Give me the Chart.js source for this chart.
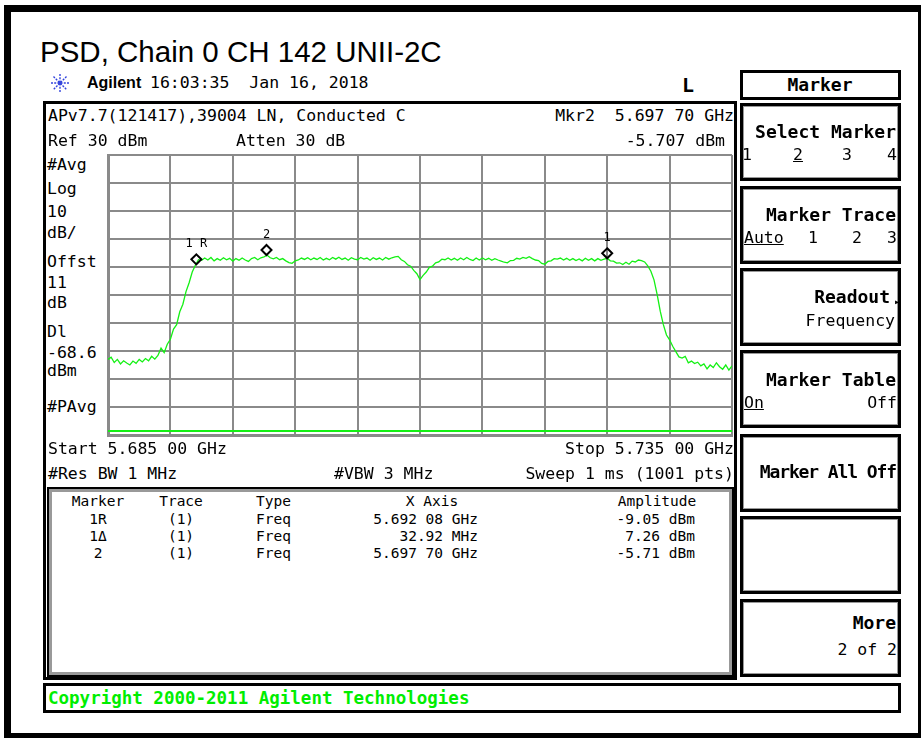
<!DOCTYPE html>
<html>
<head>
<meta charset="utf-8">
<script src="https://cdn.jsdelivr.net/npm/chart.js@4.4.1/dist/chart.umd.min.js"></script>
<style>
  body { margin:0; background:#fff; }
  #page { position:relative; width:923px; height:738px; overflow:hidden; background:#fff; }
  .abs { position:absolute; box-sizing:border-box; }
  .t { position:absolute; white-space:pre; font-family:'DejaVu Sans Mono', monospace; font-size:16.5px; line-height:20px; height:20px; color:#000; }
  .s { font-size:14.5px; }
  .b { font-weight:bold; font-size:18px; }
  .u { text-decoration:underline; }
  .key { position:absolute; left:740px; width:161px; height:78px; box-sizing:border-box; border:3px solid #000; box-shadow: inset 0 0 0 1px #999; }
</style>
</head>
<body>
<div id="page">
  <div class="abs" style="left:4px;top:5px;width:917px;height:733px;border-style:solid;border-color:#000;border-width:7px 3px 5px 7px;"></div>

  <div class="abs" style="left:40px;top:35px;font-family:'Liberation Sans',Arial,sans-serif;font-size:29.5px;line-height:34px;white-space:pre;">PSD, Chain 0 CH 142 UNII-2C</div>

  <svg class="abs" style="left:50px;top:73px" width="20" height="20" viewBox="0 0 20 20">
    <g stroke="#3344dd" stroke-width="1.4" stroke-dasharray="2 1.2">
      <line x1="10" y1="1" x2="10" y2="19"/><line x1="1" y1="10" x2="19" y2="10"/>
      <line x1="3.5" y1="3.5" x2="16.5" y2="16.5"/><line x1="16.5" y1="3.5" x2="3.5" y2="16.5"/>
    </g>
    <circle cx="10" cy="10" r="2" fill="#3344dd"/>
  </svg>
  <div class="abs" style="left:87px;top:73px;font-family:'Liberation Sans',Arial,sans-serif;font-weight:bold;font-size:16px;line-height:20px;">Agilent</div>

  <!-- main screen box and table box -->
  <div class="abs" style="left:43px;top:101px;width:694px;height:579px;border:3px solid #000;"></div>
  <div class="abs" style="left:47px;top:487px;width:687px;height:190px;border:2px solid #000;box-shadow: inset 0 0 0 3px #999;"></div>
  <div class="abs" style="left:43px;top:683px;width:858px;height:30px;border:3px solid #000;"></div>

  <!-- softkey panel -->
  <div class="abs" style="left:740px;top:70px;width:161px;height:30px;border:3px solid #000;"></div>
  <div class="key" style="top:103px"></div>
  <div class="key" style="top:186px"></div>
  <div class="key" style="top:268px"></div>
  <div class="key" style="top:350px"></div>
  <div class="key" style="top:434px"></div>
  <div class="key" style="top:516px"></div>
  <div class="key" style="top:599px"></div>

  <canvas id="psd" class="abs" width="644" height="300" style="left:98px;top:145px;"></canvas>
</div>

<script>
// sweep settings
const FREQ_START_MHZ = 5685;
const FREQ_STOP_MHZ = 5735;
const REF_LEVEL_DBM = 30;
const BOTTOM_DBM = -70;
const DISPLAY_LINE_DBM = -68.6;

// trace 1 at 0.25 MHz steps (dBm)
const traceDbm = [
  -43.0, -42.2, -44.1, -43.0, -44.6, -43.5, -44.3, -45.0, -43.6, -44.4,
  -43.0, -43.9, -42.7, -43.5, -41.9, -42.9, -41.6, -39.0, -40.6, -37.6,
  -35.8, -32.2, -30.6, -26.0, -23.3, -18.8, -15.6, -11.8, -9.4, -7.4,
  -7.6, -6.8, -7.5, -6.6, -7.8, -7.0, -7.6, -6.7, -7.4, -6.9,
  -7.9, -7.0, -7.6, -6.8, -7.5, -8.0, -7.0, -6.6, -7.4, -6.7,
  -6.4, -5.8, -6.7, -7.1, -6.6, -7.4, -7.0, -7.8, -8.4, -8.7,
  -7.8, -7.5, -6.8, -7.3, -6.7, -7.4, -6.8, -7.3, -6.6, -7.5,
  -6.9, -7.4, -6.6, -7.2, -6.5, -7.3, -6.8, -7.6, -6.7, -7.2,
  -7.4, -6.6, -7.2, -6.8, -7.6, -6.7, -7.3, -6.8, -7.5, -6.6,
  -7.2, -6.7, -6.4, -6.2, -7.4, -8.0, -9.2, -9.7, -11.2, -12.4,
  -14.5, -13.0, -11.8, -10.1, -9.7, -8.5, -8.2, -7.2, -7.4, -6.8,
  -7.5, -6.9, -7.6, -6.8, -7.4, -6.6, -7.3, -7.7, -6.8, -7.5,
  -6.8, -7.4, -6.9, -7.6, -7.0, -7.5, -7.9, -8.3, -8.5, -7.7,
  -7.6, -6.9, -7.2, -6.6, -6.9, -6.3, -7.0, -7.5, -7.7, -8.7,
  -9.0, -8.0, -7.8, -7.0, -7.2, -6.8, -7.5, -6.9, -7.6, -7.0,
  -7.7, -7.1, -7.8, -6.9, -7.6, -7.0, -7.8, -7.0, -7.6, -7.2,
  -6.9, -7.8, -7.9, -8.6, -8.5, -9.1, -8.3, -9.0, -7.9, -8.2,
  -7.5, -7.7, -8.2, -9.6, -11.5, -14.6, -19.8, -25.8, -30.6, -34.3,
  -36.0, -38.3, -40.2, -42.1, -42.5, -41.9, -44.2, -43.6, -44.5, -44.0,
  -45.3, -44.6, -46.4, -45.0, -45.9, -44.2, -45.6, -46.5, -45.0, -46.8,
  -45.3
];

// markers
const markerNames = ['1R', '2', '1'];
const markerFreqMHz = [5692.08, 5697.70, 5725.00];
const markerDbm = [-9.05, -5.71, -6.9];

// screen texts
const headerLeft = ['APv7.7(121417),39004 LN, Conducted C', 'Ref 30 dBm'];
const headerRight = ['Mkr2  5.697 70 GHz', '-5.707 dBm'];
const sideLabels = ['#Avg', 'Log', '10', 'dB/', 'Offst', '11', 'dB', 'Dl', '-68.6', 'dBm', '#PAvg'];
const sideLabelY = [165, 189, 212, 233, 262, 283, 303, 332, 353, 371, 407];
const tableHead = ['Marker', 'Trace', 'Type', 'X Axis', 'Amplitude'];
const tableRows = [
  ['1R', '(1)', 'Freq', '5.692 08 GHz', '-9.05 dBm'],
  ['1\u0394', '(1)', 'Freq', '32.92 MHz', '7.26 dBm'],
  ['2', '(1)', 'Freq', '5.697 70 GHz', '-5.71 dBm']
];

const GREEN = '#14f014';
const GRID = '#8a8a8a';

const page = document.getElementById('page');
function put(text, x, cy, cls, align) {
  const d = document.createElement('div');
  d.className = 't ' + (cls || '');
  d.textContent = text;
  d.style.top = (cy - 10) + 'px';
  if (align === 'right') d.style.right = (923 - x) + 'px';
  else if (align === 'center') { d.style.left = x + 'px'; d.style.transform = 'translateX(-50%)'; }
  else d.style.left = x + 'px';
  page.appendChild(d);
  return d;
}

put('16:03:35  Jan 16, 2018', 150, 83);
put('L', 688, 85, 'b', 'center').style.fontSize = '20px';

put(headerLeft[0], 48, 116);
put(headerRight[0], 734, 116, '', 'right');
put(headerLeft[1], 48, 141);
put('Atten 30 dB', 236, 141);
put(headerRight[1], 725, 141, '', 'right');

sideLabels.forEach((s, i) => put(s, 47, sideLabelY[i]));

put('Start 5.685 00 GHz', 48, 449);
put('Stop 5.735 00 GHz', 734, 449, '', 'right');
put('#Res BW 1 MHz', 48, 474);
put('#VBW 3 MHz', 334, 474);
put('Sweep 1 ms (1001 pts)', 734, 474, '', 'right');

// marker table
const colX = [98, 181, 256, 478, 695];
const colAlign = ['center', 'center', 'left', 'right', 'right'];
const headX = [98, 181, 256, 432, 657];
const headAlign = ['center', 'center', 'left', 'center', 'center'];
tableHead.forEach((h, i) => put(h, headX[i], 501, 's', headAlign[i]));
tableRows.forEach((row, r) => {
  row.forEach((c, i) => put(c, colX[i], 519 + r * 17, 's', colAlign[i]));
});

// softkeys
put('Marker', 820, 85, 'b', 'center');
put('Select Marker', 896, 132, 'b', 'right');
put('1', 747, 155, '', 'center');
put('2', 798, 155, 'u', 'center');
put('3', 847, 155, '', 'center');
put('4', 897, 155, '', 'right');
put('Marker Trace', 896, 215, 'b', 'right');
put('Auto', 744, 238, 'u');
put('1', 813, 238, '', 'center');
put('2', 857, 238, '', 'center');
put('3', 897, 238, '', 'right');
put('Readout', 890, 297, 'b', 'right');
put('\u25B8', 900, 302, '', 'right').style.fontSize = '10px';
put('Frequency', 895, 321, '', 'right');
put('Marker Table', 896, 380, 'b', 'right');
put('On', 744, 403, 'u');
put('Off', 897, 403, '', 'right');
put('Marker All Off', 896, 472, 'b', 'right').style.letterSpacing = '-1.1px';
put('More', 896, 623, 'b', 'right');
put('2 of 2', 897, 650, '', 'right');

const cp = put('Copyright 2000-2011 Agilent Technologies', 48, 698, 'b');
cp.style.color = '#00ee00';
cp.style.fontSize = '17.5px';

// chart
const step = (FREQ_STOP_MHZ - FREQ_START_MHZ) / (traceDbm.length - 1);
const tracePts = traceDbm.map((v, i) => ({ x: FREQ_START_MHZ + i * step, y: v }));

const markerPlugin = {
  id: 'markers',
  afterDatasetsDraw(chart) {
    const { ctx, scales } = chart;
    ctx.save();
    markerNames.forEach((name, i) => {
      const px = scales.x.getPixelForValue(markerFreqMHz[i]);
      const py = scales.y.getPixelForValue(markerDbm[i]);
      const cy = py - 5;
      ctx.beginPath();
      ctx.moveTo(px, cy - 5);
      ctx.lineTo(px + 5, cy);
      ctx.lineTo(px, cy + 5);
      ctx.lineTo(px - 5, cy);
      ctx.closePath();
      ctx.lineWidth = 2;
      ctx.strokeStyle = '#000';
      ctx.stroke();
      ctx.font = '12px "DejaVu Sans Mono"';
      ctx.fillStyle = '#000';
      ctx.textAlign = 'center';
      ctx.textBaseline = 'middle';
      ctx.fillText(name.split('').join(' '), px, cy - 15);
    });
    ctx.restore();
  }
};

new Chart(document.getElementById('psd').getContext('2d'), {
  type: 'line',
  data: {
    datasets: [
      { data: tracePts, borderColor: GREEN, borderWidth: 1.3, pointRadius: 0, tension: 0 },
      { data: [{ x: FREQ_START_MHZ, y: DISPLAY_LINE_DBM }, { x: FREQ_STOP_MHZ, y: DISPLAY_LINE_DBM }],
        borderColor: GREEN, borderWidth: 2, pointRadius: 0 }
    ]
  },
  options: {
    responsive: false,
    animation: false,
    events: [],
    layout: { padding: 10 },
    plugins: { legend: { display: false }, tooltip: { enabled: false } },
    scales: {
      x: {
        type: 'linear', min: FREQ_START_MHZ, max: FREQ_STOP_MHZ,
        ticks: { display: false, stepSize: 5 },
        grid: { color: GRID, lineWidth: 2, drawTicks: false },
        border: { color: GRID, width: 3 },
        afterFit: s => { s.height = 0; }
      },
      y: {
        type: 'linear', min: BOTTOM_DBM, max: REF_LEVEL_DBM,
        ticks: { display: false, stepSize: 10 },
        grid: { color: GRID, lineWidth: 2, drawTicks: false },
        border: { color: GRID, width: 3 },
        afterFit: s => { s.width = 0; }
      }
    }
  },
  plugins: [markerPlugin]
});
</script>
</body>
</html>
